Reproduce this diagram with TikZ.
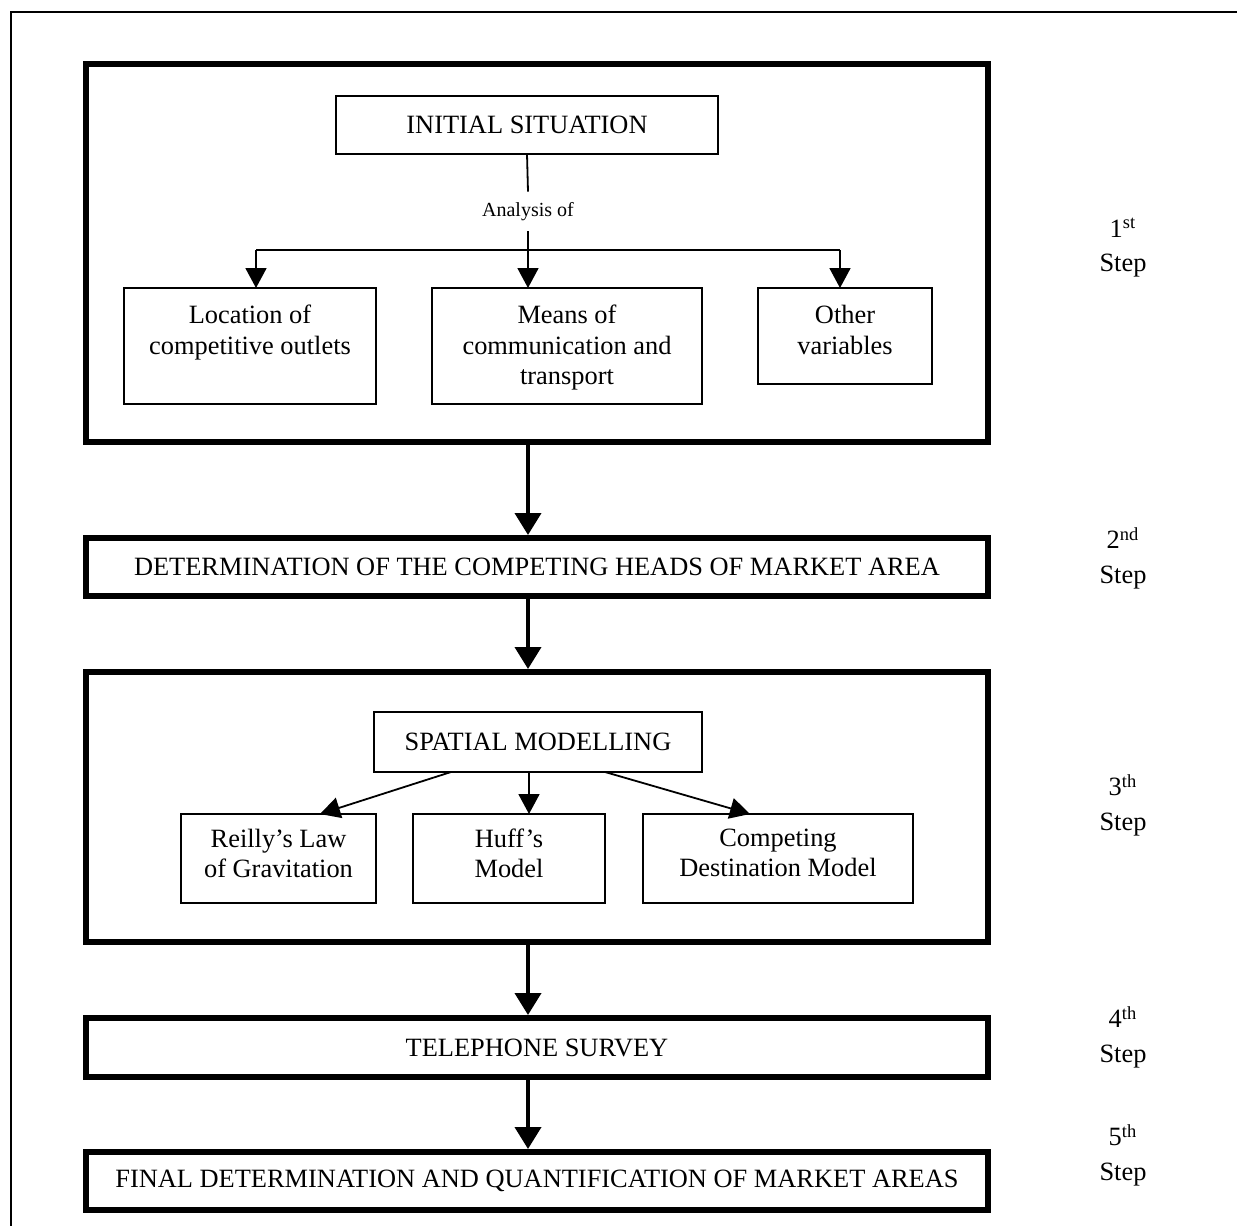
\documentclass[tikz,border=0pt]{standalone}
\usepackage{fontspec}
\setmainfont{Liberation Serif}
\usetikzlibrary{arrows.meta}
\newcommand\mainsz{\fontsize{13.2}{15.2}\selectfont}
\newcommand\anasz{\fontsize{10}{12}\selectfont}
\begin{document}
\begin{tikzpicture}[x=0.5pt,y=-0.5pt,
  bigbox/.style={draw, line width=3pt, inner sep=0pt, minimum width=451pt, align=center, font=\mainsz},
  thinbox/.style={draw, line width=0.9pt, inner sep=0pt, outer sep=0pt, align=center, font=\mainsz},
  txt/.style={inner sep=0pt, align=center, font=\mainsz},
  steplbl/.style={inner sep=0pt, align=center, font=\mainsz},
  thinline/.style={line width=0.9pt},
  thinarrow/.style={line width=0.9pt, -{Triangle[length=10pt,width=10.5pt]}},
  thickarrow/.style={line width=2pt, -{Triangle[length=11pt,width=13pt]}}
]
\useasboundingbox (0,0) rectangle (1237,1226);
% outer frame (only left and top edges visible)
\draw[line width=1.15pt] (11,1226) -- (11,12) -- (1237,12);

% ---------- Step 1 ----------
\node[bigbox, minimum height=189pt] (s1) at (537,253) {};
\node[thinbox, minimum width=191pt, minimum height=29pt] (init) at (527,125) {INITIAL SITUATION};
\node[inner sep=0pt, minimum height=19.5pt, font=\anasz] (anal) at (528,211.5) {Analysis of};
\coordinate (jn) at (528,250);
\coordinate (hl) at (256,250);
\coordinate (hr) at (840,250);

\node[thinbox, minimum width=126pt, minimum height=58pt] (loc) at (250,346) {};
\node[thinbox, minimum width=135pt, minimum height=58pt] (means) at (567,346) {};
\node[thinbox, minimum width=87pt, minimum height=48pt] (other) at (845,336) {};
\node[txt, anchor=north] (loct) at ([yshift=-8.5pt]loc.north) {Location of\\competitive outlets};
\node[txt, anchor=north] (meanst) at ([yshift=-8.5pt]means.north) {Means of\\communication and\\transport};
\node[txt, anchor=north] (othert) at ([yshift=-8.5pt]other.north) {Other\\variables};

\draw[thinline] (init.south) -- (anal.north);
\draw[thinline] (anal.south) -- (jn);
\draw[thinline] (hl) -- (hr);
\draw[thinarrow] (hl) -- (hl |- loc.north);
\draw[thinarrow] (jn) -- (jn |- means.north);
\draw[thinarrow] (hr) -- (hr |- other.north);

% ---------- Step 2 ----------
\node[bigbox, minimum height=29pt] (s2) at (537,567) {DETERMINATION OF THE COMPETING HEADS OF MARKET AREA};
\draw[thickarrow] (jn |- s1.south) -- (jn |- s2.north);

% ---------- Step 3 ----------
\node[bigbox, minimum height=135pt] (s3) at (537,807) {};
\draw[thickarrow] (jn |- s2.south) -- (jn |- s3.north);
\node[thinbox, minimum width=164pt, minimum height=30pt] (spatial) at (538,742) {SPATIAL MODELLING};
\node[thinbox, minimum width=97.5pt, minimum height=44.5pt] (reilly) at (278.5,858.5) {};
\node[thinbox, minimum width=96pt, minimum height=44.5pt] (huff) at (509,858.5) {};
\node[thinbox, minimum width=135pt, minimum height=44.5pt] (comp) at (778,858.5) {};
\node[txt, anchor=north] (reillyt) at ([yshift=-7.2pt]reilly.north) {Reilly’s Law\\of Gravitation};
\node[txt, anchor=north] (hufft) at ([yshift=-7.2pt]huff.north) {Huff’s\\Model};
\node[txt, anchor=north] (compt) at ([yshift=-7.2pt]comp.north) {Competing\\Destination Model};
\draw[thinarrow] ([xshift=-43.5pt]spatial.south) -- ([xshift=20.75pt]reilly.north);
\draw[thinarrow] ([xshift=-4.5pt]spatial.south) -- ([xshift=10pt]huff.north);
\draw[thinarrow] ([xshift=33.5pt]spatial.south) -- ([xshift=-14pt]comp.north);

% ---------- Step 4 ----------
\node[bigbox, minimum height=29.5pt] (s4) at (537,1047.5) {TELEPHONE SURVEY};
\draw[thickarrow] (jn |- s3.south) -- (jn |- s4.north);

% ---------- Step 5 ----------
\node[bigbox, minimum height=29pt] (s5) at (537,1181) {FINAL DETERMINATION AND QUANTIFICATION OF MARKET AREAS};
\draw[thickarrow] (jn |- s4.south) -- (jn |- s5.north);

% ---------- Step labels ----------
\node[steplbl] (l1) at (1123,248) {1\textsuperscript{st}\\[2pt]Step};
\node[steplbl] (l2) at (1123,558) {2\textsuperscript{nd}\\[2pt]Step};
\node[steplbl] (l3) at (1123,805) {3\textsuperscript{th}\\[2pt]Step};
\node[steplbl] (l4) at (1123,1037) {4\textsuperscript{th}\\[2pt]Step};
\node[steplbl] (l5) at (1123,1155) {5\textsuperscript{th}\\[2pt]Step};
\end{tikzpicture}
\end{document}
